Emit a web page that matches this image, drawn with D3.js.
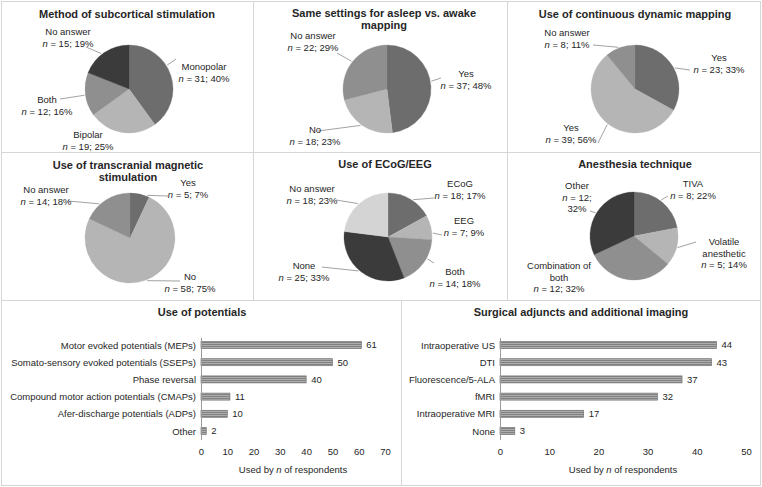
<!DOCTYPE html>
<html><head><meta charset="utf-8">
<script src="https://cdn.jsdelivr.net/npm/d3@7"></script>
<style>
body{margin:0;background:#fff}
svg{display:block;font-family:"Liberation Sans",Arial,Helvetica,sans-serif}
</style></head><body>
<svg id="chart" width="762" height="487"></svg>
<script>
// ---------- DATA ----------
const stimCategories = ["Monopolar", "Bipolar", "Both", "No answer"];
const stimN = [31, 19, 12, 15];
const stimPct = [40, 25, 16, 19];

const settingsCategories = ["Yes", "No", "No answer"];
const settingsN = [37, 18, 22];
const settingsPct = [48, 23, 29];

const dynamicCategories = ["Yes", "Yes", "No answer"];
const dynamicN = [23, 39, 8];
const dynamicPct = [33, 56, 11];

const tmsCategories = ["Yes", "No", "No answer"];
const tmsN = [5, 58, 14];
const tmsPct = [7, 75, 18];

const ecogCategories = ["ECoG", "EEG", "Both", "None", "No answer"];
const ecogN = [18, 7, 14, 25, 18];
const ecogPct = [17, 9, 18, 33, 23];

const anesthesiaCategories = ["TIVA", "Volatile anesthetic", "Combination of both", "Other"];
const anesthesiaN = [8, 5, 12, 12];
const anesthesiaPct = [22, 14, 32, 32];

const potentialsCategories = ["Motor evoked potentials (MEPs)", "Somato-sensory evoked potentials (SSEPs)", "Phase reversal", "Compound motor action potentials (CMAPs)", "Afer-discharge potentials (ADPs)", "Other"];
const potentialsValues = [61, 50, 40, 11, 10, 2];
const potentialsTicks = [0, 10, 20, 30, 40, 50, 60, 70];

const adjunctsCategories = ["Intraoperative US", "DTI", "Fluorescence/5-ALA", "fMRI", "Intraoperative MRI", "None"];
const adjunctsValues = [44, 43, 37, 32, 17, 3];
const adjunctsTicks = [0, 10, 20, 30, 40, 50];

// ---------- STYLE / LAYOUT ----------
const C_DARK = "#3b3b3b", C_MD = "#6d6d6d", C_MID = "#8f8f8f", C_LT = "#b5b5b5", C_VLT = "#d4d4d4";
const TEXT = "#262626";
const svg = d3.select("#chart");

// panel borders
const border = "#d6d6d6";
const borders = svg.append("g").attr("stroke", border).attr("stroke-width", 1).attr("fill", "none");
borders.append("rect").attr("x", 1.5).attr("y", 1.5).attr("width", 759).attr("height", 484);
[[1.5, 152.5, 760.5, 152.5], [1.5, 300.5, 760.5, 300.5], [253.5, 1.5, 253.5, 300.5], [507.5, 1.5, 507.5, 300.5], [401.5, 300.5, 401.5, 485.5]]
  .forEach(l => borders.append("line").attr("x1", l[0]).attr("y1", l[1]).attr("x2", l[2]).attr("y2", l[3]));

const pies = [
  { title: ["Method of subcortical stimulation"], tx: 127, ty: 18, cx: 129, cy: 89, r: 44,
    cats: stimCategories, n: stimN, pct: stimPct, colors: [C_MD, C_LT, C_MID, C_DARK],
    labels: [
      { dx: 75, dy: -19, leader: [58, 47, -30] },
      { dx: -41, dy: 49 },
      { dx: -82, dy: 14, leader: [262, -69, 10] },
      { dx: -61, dy: -54, leader: [322, -43, -42] }
    ] },
  { title: ["Same settings for asleep vs. awake", "mapping"], tx: 384, ty: 17, cx: 387, cy: 89, r: 44,
    cats: settingsCategories, n: settingsN, pct: settingsPct, colors: [C_MD, C_LT, C_MID],
    labels: [
      { dx: 79, dy: -12, leader: [80, 54, -11] },
      { dx: -72, dy: 44, leader: [216, -69, 42] },
      { dx: -74, dy: -50, leader: [308, -50, -36] }
    ] },
  { title: ["Use of continuous dynamic mapping"], tx: 635, ty: 18, cx: 635, cy: 89, r: 44,
    cats: dynamicCategories, n: dynamicN, pct: dynamicPct, colors: [C_MD, C_LT, C_MID],
    labels: [
      { dx: 84, dy: -28, leader: [62, 55, -19] },
      { dx: -64, dy: 42, leader: [218, -37, 54] },
      { dx: -68, dy: -53, leader: [338, -42, -44] }
    ] },
  { title: ["Use of transcranial magnetic", "stimulation"], tx: 128, ty: 169, cx: 130, cy: 238, r: 45,
    cats: tmsCategories, n: tmsN, pct: tmsPct, colors: [C_MD, C_LT, C_MID],
    labels: [
      { dx: 58, dy: -52, leader: [22, 38, -42] },
      { dx: 60, dy: 42, leader: [158, 50, 43] },
      { dx: -84, dy: -45, leader: [318, -62, -37] }
    ] },
  { title: ["Use of ECoG/EEG"], tx: 385, ty: 168, cx: 388, cy: 237, r: 44,
    cats: ecogCategories, n: ecogN, pct: ecogPct, colors: [C_MD, C_LT, C_MID, C_DARK, C_VLT],
    labels: [
      { dx: 72, dy: -50, leader: [34, 46, -39] },
      { dx: 76, dy: -13, leader: [85, 54, -2] },
      { dx: 67, dy: 38, leader: [119, 46, 26] },
      { dx: -84, dy: 32, leader: [221, -66, 30] },
      { dx: -76, dy: -45, leader: [318, -52, -37] }
    ] },
  { title: ["Anesthesia technique"], tx: 635, ty: 168, cx: 634, cy: 236, r: 44,
    cats: anesthesiaCategories, n: anesthesiaN, pct: anesthesiaPct, colors: [C_MD, C_LT, C_MID, C_DARK],
    labels: [
      { dx: 59, dy: -49, leader: [37, 34, -40] },
      { dx: 90, dy: 9, split: true, leader: [105, 62, 6] },
      { dx: -75, dy: 33, split: true },
      { dx: -57, dy: -47, nsplit: true, leader: [301, -44, -25] }
    ] }
];

const LH = 11.5;
pies.forEach(p => {
  const g = svg.append("g");
  const t = g.append("text").attr("x", p.tx).attr("y", p.ty).attr("text-anchor", "middle")
    .attr("font-size", 11).attr("font-weight", "bold").attr("fill", TEXT);
  p.title.forEach((line, i) => t.append("tspan").attr("x", p.tx).attr("dy", i ? 12 : 0).text(line));

  const arcs = d3.pie().sort(null).value(d => d)(p.pct);
  const arc = d3.arc().innerRadius(0).outerRadius(p.r);
  g.append("g").attr("transform", `translate(${p.cx},${p.cy})`)
    .selectAll("path").data(arcs).join("path")
    .attr("d", arc).attr("fill", (d, i) => p.colors[i])
    .attr("stroke", (d, i) => p.colors[i]).attr("stroke-width", 0.3);

  p.labels.forEach((L, i) => {
    if (L.leader) {
      const a = L.leader[0] * Math.PI / 180, rr = p.r + 1;
      g.append("line")
        .attr("x1", p.cx + rr * Math.sin(a)).attr("y1", p.cy - rr * Math.cos(a))
        .attr("x2", p.cx + L.leader[1]).attr("y2", p.cy + L.leader[2])
        .attr("stroke", "#8a8a8a").attr("stroke-width", 0.8);
    }
    const x = p.cx + L.dx, y = p.cy + L.dy;
    const txt = g.append("text").attr("x", x).attr("y", y).attr("text-anchor", "middle")
      .attr("font-size", 9.5).attr("fill", TEXT);
    let lines = [p.cats[i]];
    if (L.split) {
      const k = p.cats[i].lastIndexOf(" ");
      lines = [p.cats[i].slice(0, k), p.cats[i].slice(k + 1)];
    }
    let li = 0;
    lines.forEach(s => { txt.append("tspan").attr("x", x).attr("dy", li++ ? LH : 0).text(s); });
    const nl = txt.append("tspan").attr("x", x).attr("dy", LH);
    nl.append("tspan").attr("font-style", "italic").text("n");
    if (L.nsplit) {
      nl.append("tspan").text(` = ${p.n[i]};`);
      txt.append("tspan").attr("x", x).attr("dy", LH).text(`${p.pct[i]}%`);
    } else {
      nl.append("tspan").text(` = ${p.n[i]}; ${p.pct[i]}%`);
    }
  });
});

// ---------- BAR CHARTS ----------
const defs = svg.append("defs");
const pat = defs.append("pattern").attr("id", "stripes").attr("patternUnits", "userSpaceOnUse")
  .attr("width", 4).attr("height", 2);
pat.append("rect").attr("width", 4).attr("height", 2).attr("fill", "#adadad");
pat.append("rect").attr("width", 4).attr("height", 1).attr("fill", "#818181");

const bars = [
  { title: "Use of potentials", tx: 202, cats: potentialsCategories, vals: potentialsValues, ticks: potentialsTicks,
    x0: 201, x1: 385, axX: 293 },
  { title: "Surgical adjuncts and additional imaging", tx: 581, cats: adjunctsCategories, vals: adjunctsValues, ticks: adjunctsTicks,
    x0: 500, x1: 746, axX: 623 }
];

bars.forEach(b => {
  const g = svg.append("g");
  g.append("text").attr("x", b.tx).attr("y", 316).attr("text-anchor", "middle")
    .attr("font-size", 11).attr("font-weight", "bold").attr("fill", TEXT).text(b.title);
  const x = d3.scaleLinear().domain([b.ticks[0], b.ticks[b.ticks.length - 1]]).range([b.x0, b.x1]);
  const y = d3.scalePoint().domain(b.cats).range([345, 431]);
  const bh = 7;

  g.selectAll("rect.bar").data(b.vals).join("rect").attr("class", "bar")
    .attr("x", x(0)).attr("y", (d, i) => y(b.cats[i]) - bh / 2)
    .attr("width", d => x(d) - x(0)).attr("height", bh)
    .attr("fill", "url(#stripes)").attr("stroke", "#747474").attr("stroke-width", 0.7);

  g.selectAll("text.val").data(b.vals).join("text").attr("class", "val")
    .attr("x", d => x(d) + 5).attr("y", (d, i) => y(b.cats[i]) + 3.4)
    .attr("font-size", 9.5).attr("fill", TEXT).text(d => d);

  const ya = g.append("g").attr("transform", `translate(${x(0)},0)`)
    .call(d3.axisLeft(y).tickSize(0).tickPadding(5));
  ya.select(".domain").remove();
  ya.selectAll("text").attr("font-size", 9.5).attr("fill", TEXT).attr("font-family", null);
  g.append("line").attr("x1", x(0) + 0.5).attr("x2", x(0) + 0.5).attr("y1", 338).attr("y2", 440)
    .attr("stroke", "#9a9a9a").attr("stroke-width", 1);

  const xa = g.append("g").attr("transform", "translate(0,444)")
    .call(d3.axisBottom(x).tickValues(b.ticks).tickSize(0).tickPadding(4).tickFormat(d3.format("d")));
  xa.select(".domain").remove();
  xa.selectAll("text").attr("font-size", 9.5).attr("fill", TEXT).attr("font-family", null);

  const at = g.append("text").attr("x", b.axX).attr("y", 473).attr("text-anchor", "middle")
    .attr("font-size", 9.5).attr("fill", TEXT);
  at.append("tspan").text("Used by ");
  at.append("tspan").attr("font-style", "italic").text("n");
  at.append("tspan").text(" of respondents");
});
</script>
</body></html>
